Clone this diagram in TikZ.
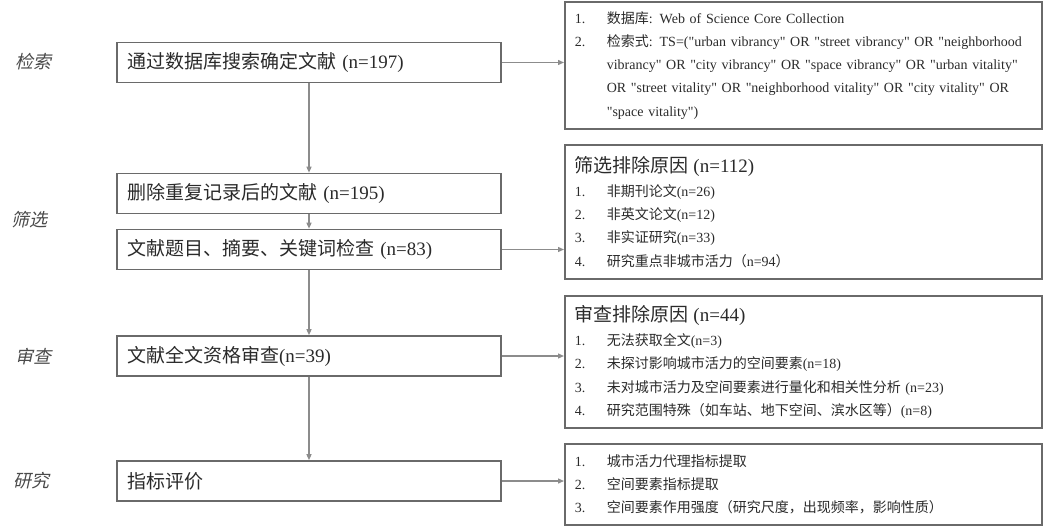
\documentclass[tikz,border=0pt]{standalone}
\usepackage{fontspec}
\setmainfont{Liberation Serif}[Ligatures=TeXOff]
\newfontfamily\cjk{Noto Sans CJK SC}
\newfontfamily\cjkslant[FakeSlant=0.22]{Noto Sans CJK SC}
\usepackage{xcolor}
\usetikzlibrary{arrows.meta}
\definecolor{boxgray}{HTML}{6A6A6A}
\definecolor{linegray}{HTML}{8C8C8C}
\definecolor{textgray}{HTML}{2A2A2A}

\begin{document}
\begin{tikzpicture}[x=1pt,y=1pt,
    stage/.style={font=\cjkslant\fontsize{18}{20}\selectfont,text=textgray!85},
    leftbox/.style={draw=boxgray,line width=1.6pt,minimum width=384pt,minimum height=40pt,
        inner xsep=10pt,text width=364pt,align=left,font=\fontsize{19}{22}\selectfont,text=textgray},
    notebox/.style={draw=boxgray,line width=1.6pt,anchor=north west,inner xsep=10pt,
        text width=457pt,align=left,font=\fontsize{14}{23.3}\selectfont,text=textgray},
    arr/.style={draw=linegray,line width=1.3pt,-{Triangle[length=6pt,width=5pt]}}]
    \useasboundingbox (0,0) rectangle (1043,-526);
    % stages
    \node[stage] (s1) at (33,-62) {检索};
    \node[stage] (s2) at (30,-220) {筛选};
    \node[stage] (s3) at (33,-357) {审查};
    \node[stage] (s4) at (31,-481) {研究};
    % main flow
    \node[leftbox] (1) at (309,-62.5) {{\cjk 通过数据库搜索确定文献} (n=197)};
    \node[leftbox] (2) at (309,-193.5) {{\cjk 删除重复记录后的文献} (n=195)};
    \node[leftbox] (3) at (309,-249.5) {{\cjk 文献题目、摘要、关键词检查} (n=83)};
    \node[leftbox] (4) at (309,-356) {{\cjk 文献全文资格审查}(n=39)};
    \node[leftbox] (5) at (309,-481) {{\cjk 指标评价}};
    % notes
    \node[notebox,minimum height=127pt] (a) at (564,-1) {%
        \mbox{\makebox[32pt][l]{1.}{\cjk 数据库}: Web of Science Core Collection}\\
        \mbox{\makebox[32pt][l]{2.}{\cjk 检索式}: TS=("urban vibrancy" OR "street vibrancy" OR "neighborhood}\\
        \mbox{\hspace*{32pt}vibrancy" OR "city vibrancy" OR "space vibrancy" OR "urban vitality"}\\
        \mbox{\hspace*{32pt}OR "street vitality" OR "neighborhood vitality" OR "city vitality" OR}\\
        \mbox{\hspace*{32pt}"space vitality")}};
    \node[notebox,minimum height=134pt] (b) at (564,-144) {%
        {\fontsize{19}{22}\selectfont{\cjk 筛选排除原因} (n=112)}\\[1pt]
        \makebox[32pt][l]{1.}{\cjk 非期刊论文}(n=26)\\
        \makebox[32pt][l]{2.}{\cjk 非英文论文}(n=12)\\
        \makebox[32pt][l]{3.}{\cjk 非实证研究}(n=33)\\
        \makebox[32pt][l]{4.}{\cjk 研究重点非城市活力（}n=94{\cjk ）}};
    \node[notebox,minimum height=132pt] (c) at (564,-295) {%
        {\fontsize{19}{22}\selectfont{\cjk 审查排除原因} (n=44)}\\[1pt]
        \makebox[32pt][l]{1.}{\cjk 无法获取全文}(n=3)\\
        \makebox[32pt][l]{2.}{\cjk 未探讨影响城市活力的空间要素}(n=18)\\
        \makebox[32pt][l]{3.}{\cjk 未对城市活力及空间要素进行量化和相关性分析} (n=23)\\
        \makebox[32pt][l]{4.}{\cjk 研究范围特殊（如车站、地下空间、滨水区等）}(n=8)};
    \node[notebox,minimum height=81pt] (d) at (564,-443) {%
        \makebox[32pt][l]{1.}{\cjk 城市活力代理指标提取}\\
        \makebox[32pt][l]{2.}{\cjk 空间要素指标提取}\\
        \makebox[32pt][l]{3.}{\cjk 空间要素作用强度（研究尺度，出现频率，影响性质）}};
    % connectors
    \draw[arr] (1) -- (2);
    \draw[arr] (2) -- (3);
    \draw[arr] (3) -- (4);
    \draw[arr] (4) -- (5);
    \draw[arr] (1.east) -- (1.east -| a.west);
    \draw[arr] (3.east) -- (3.east -| b.west);
    \draw[arr] (4.east) -- (4.east -| c.west);
    \draw[arr] (5.east) -- (5.east -| d.west);
\end{tikzpicture}
\end{document}
